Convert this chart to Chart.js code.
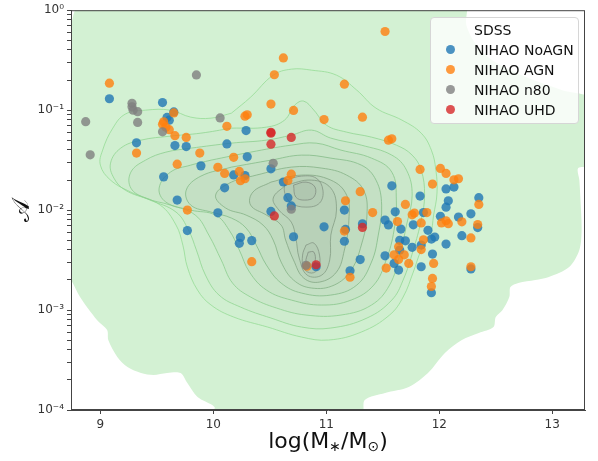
<!DOCTYPE html>
<html>
<head>
<meta charset="utf-8">
<script src="https://cdn.jsdelivr.net/npm/chart.js@4.4.1/dist/chart.umd.min.js"></script>
<style>
    body { margin: 0; background: #fff; }
    #wrap { position: relative; width: 598px; height: 461px; }
    #legendBox {
        position: absolute; left: 430px; top: 17px; width: 147px; height: 105px;
        background: rgba(255,255,255,0.8); border: 1px solid #d6d6d6; border-radius: 4px;
        font-family: "DejaVu Sans", sans-serif; font-size: 14px; color: #111;
    }
    .row { position: absolute; left: 0; height: 20px; line-height: 20px; white-space: nowrap; }
    .dot { position: absolute; left: 15px; top: 5px; width: 9px; height: 9px; border-radius: 50%; }
    .lbl { position: absolute; left: 43px; }
    #xTitle {
        position: absolute; left: 0; width: 656px; top: 428px; text-align: center;
        font-family: "DejaVu Sans", sans-serif; font-size: 22px; color: #111;
    }
    #xTitle sub { font-size: 14px; vertical-align: -3px; }
</style>
</head>
<body>
<div id="wrap">
    <canvas id="kdeChart" width="598" height="461"></canvas>
    <div id="legendBox"></div>
    <div id="xTitle">log(M<sub>∗</sub>/M<sub>⊙</sub>)</div>
</div>
<script>
// tick values / labels
const xTicks = [9, 10, 11, 12, 13];
const yTicks = [1e-4, 1e-3, 1e-2, 1e-1, 1];
const yTickLabels = ["10⁻⁴", "10⁻³", "10⁻²", "10⁻¹", "10⁰"];

// NIHAO simulations (log stellar mass, A)
const noAgnX = [9.08, 9.55, 9.65, 9.59, 9.61, 9.32, 9.66, 9.76, 10.12, 10.29, 10.30, 9.89, 9.56, 10.10, 10.18, 10.28, 10.51, 10.62, 10.66, 10.69,
    9.68, 10.04, 10.51, 9.77, 10.24, 10.23, 10.34, 10.71, 10.98, 10.91, 11.16, 11.17, 11.16, 11.32, 11.30, 11.21, 11.58, 11.83, 12.06, 12.13,
    12.08, 12.35, 12.06, 11.61, 11.86, 12.01, 12.28, 12.17, 11.52, 11.55, 11.66, 11.77, 11.90, 12.34, 12.20, 11.96, 11.93, 12.06, 11.65, 11.70,
    11.76, 11.84, 11.65, 11.52, 11.94, 11.60, 11.64, 11.84, 12.28, 11.93];
const noAgnY = [0.130, 0.119, 0.0959, 0.0845, 0.0794, 0.0471, 0.0442, 0.0432, 0.0459, 0.0624, 0.0341, 0.0277, 0.0215, 0.0167, 0.0225, 0.0222, 0.0259, 0.0191, 0.0133, 0.0110,
    0.0126, 0.0094, 0.0097, 0.00624, 0.00533, 0.00465, 0.00495, 0.00541, 0.00681, 0.00271, 0.0100, 0.00641, 0.00488, 0.0073, 0.0032, 0.00247, 0.0175, 0.0138, 0.0163, 0.0170,
    0.0124, 0.0133, 0.0107, 0.00962, 0.00944, 0.00867, 0.00918, 0.00851, 0.00794, 0.00711, 0.00646, 0.00713, 0.00628, 0.00668, 0.00555, 0.00537, 0.00513, 0.00457, 0.00498, 0.00493,
    0.00424, 0.00447, 0.00398, 0.00349, 0.00363, 0.00293, 0.00251, 0.00271, 0.00258, 0.00149];

const agnX = [9.08, 9.56, 9.55, 9.58, 9.61, 9.65, 9.66, 9.76, 9.32, 9.88, 9.68, 10.04, 10.10, 10.12, 10.30, 10.28, 10.62, 10.54, 10.51, 10.71,
    10.98, 11.16, 11.32, 11.52, 11.55, 11.58, 10.18, 10.23, 10.24, 10.28, 10.69, 10.66, 9.77, 10.34, 10.83, 11.30, 11.17, 11.41, 11.16, 11.21,
    11.83, 12.01, 12.06, 12.13, 12.17, 11.94, 12.35, 11.70, 11.76, 11.78, 11.89, 12.20, 12.02, 12.06, 12.08, 11.63, 11.84, 12.34, 12.28, 11.86,
    11.84, 11.64, 11.69, 11.60, 11.64, 11.73, 11.53, 11.95, 11.94, 11.93, 12.28];
const agnY = [0.186, 0.0764, 0.0724, 0.0676, 0.0638, 0.0938, 0.0556, 0.0533, 0.0372, 0.0372, 0.0288, 0.0268, 0.0233, 0.0689, 0.0897, 0.0871, 0.333, 0.226, 0.115, 0.0993,
    0.0804, 0.182, 0.0851, 0.612, 0.0501, 0.0516, 0.0337, 0.0244, 0.0197, 0.0206, 0.0229, 0.0198, 0.0100, 0.00305, 0.00275, 0.0153, 0.0124, 0.00944, 0.00617, 0.00213,
    0.0255, 0.0261, 0.0233, 0.0201, 0.0206, 0.0182, 0.0114, 0.0114, 0.00897, 0.00933, 0.00944, 0.00764, 0.00745, 0.00782, 0.00731, 0.00767, 0.00745, 0.00718, 0.00527, 0.00504,
    0.00403, 0.0043, 0.00357, 0.00357, 0.00321, 0.00293, 0.00263, 0.00293, 0.00207, 0.00172, 0.00271];

const n80X = [8.87, 8.91, 9.85, 9.28, 9.28, 9.29, 9.33, 9.33, 9.55, 10.06, 10.53, 10.69, 10.82];
const n80Y = [0.0767, 0.0357, 0.225, 0.117, 0.108, 0.100, 0.0966, 0.0753, 0.0607, 0.0836, 0.0294, 0.0102, 0.0028];

const uhdX = [10.51, 10.51, 10.69, 10.51, 10.54, 10.91, 11.32];
const uhdY = [0.0589, 0.0600, 0.0533, 0.0457, 0.00875, 0.00284, 0.00671];

const seriesNames = ["SDSS", "NIHAO NoAGN", "NIHAO AGN", "NIHAO n80", "NIHAO UHD"];

// SDSS density: outline of the filled area and contour levels, as [logM, log10 A]
const sdssOuter = [[8.79, 0.1], [12.22, 0.1], [12.24, -0.15], [12.33, -0.35], [12.47, -0.5], [12.73, -0.65], [13.09, -0.8], [13.36, -0.9],
    [13.36, -1.55], [13.23, -1.58], [13.24, -1.70], [13.25, -1.90], [13.26, -2.20], [13.24, -2.40], [13.15, -2.57], [12.97, -2.67],
    [12.85, -2.70], [12.70, -2.73], [12.63, -2.77], [12.62, -2.87], [12.56, -3.0], [12.50, -3.07], [12.48, -3.17], [12.35, -3.23],
    [12.20, -3.30], [12.05, -3.43], [11.90, -3.63], [11.73, -3.77], [11.52, -3.83], [11.34, -3.90], [11.31, -4.05], [10.0, -4.05],
    [10.01, -3.97], [9.86, -3.87], [9.77, -3.73], [9.71, -3.63], [9.59, -3.63], [9.47, -3.65], [9.36, -3.63], [9.24, -3.57],
    [9.15, -3.47], [9.07, -3.30], [9.06, -3.20], [8.97, -3.10], [8.82, -2.87], [8.74, -2.70], [8.69, -2.65], [8.69, -0.3],
    [8.74, -0.15], [8.76, -0.05], [8.78, 0.02]];

const sdssLevel1 = [[10.16, -1.03], [10.33, -0.87], [10.53, -0.65], [10.69, -0.59], [10.87, -0.60], [11.09, -0.65], [11.27, -0.80], [11.44, -0.98],
    [11.67, -1.10], [11.84, -1.23], [11.93, -1.40], [11.97, -1.60], [11.98, -1.83], [11.95, -2.05], [11.92, -2.25], [11.84, -2.40],
    [11.77, -2.62], [11.68, -2.87], [11.56, -3.05], [11.31, -3.22], [11.02, -3.30], [10.78, -3.27], [10.48, -3.17], [10.18, -3.07],
    [9.98, -2.95], [9.86, -2.80], [9.77, -2.57], [9.73, -2.35], [9.67, -2.15], [9.53, -1.95], [9.27, -1.82], [9.09, -1.70],
    [9.0, -1.55], [9.02, -1.40], [9.11, -1.18], [9.22, -1.04], [9.40, -1.00], [9.62, -1.00], [9.80, -1.07], [9.98, -1.08]];
const sdssLevel2 = [[10.16, -1.18], [10.47, -1.17], [10.63, -1.10], [10.72, -0.95], [10.80, -0.91], [10.89, -1.00], [11.0, -1.15], [11.18, -1.22],
    [11.40, -1.27], [11.62, -1.35], [11.76, -1.45], [11.84, -1.60], [11.87, -1.85], [11.84, -2.10], [11.77, -2.40], [11.68, -2.70],
    [11.58, -2.90], [11.36, -3.08], [11.04, -3.18], [10.78, -3.17], [10.51, -3.08], [10.24, -2.97], [10.05, -2.85], [9.93, -2.65],
    [9.85, -2.40], [9.78, -2.20], [9.67, -2.02], [9.44, -1.90], [9.22, -1.80], [9.12, -1.68], [9.09, -1.53], [9.18, -1.38],
    [9.36, -1.30], [9.62, -1.26], [9.89, -1.23]];
const sdssLevel3 = [[9.80, -1.38], [10.16, -1.33], [10.47, -1.30], [10.69, -1.25], [10.87, -1.20], [11.04, -1.28], [11.31, -1.35], [11.58, -1.45],
    [11.71, -1.60], [11.76, -1.85], [11.71, -2.15], [11.65, -2.45], [11.56, -2.75], [11.40, -2.95], [11.13, -3.05], [10.82, -3.05],
    [10.56, -2.98], [10.33, -2.87], [10.17, -2.73], [10.07, -2.50], [9.96, -2.25], [9.84, -2.05], [9.62, -1.95], [9.40, -1.88],
    [9.27, -1.78], [9.27, -1.62], [9.40, -1.50], [9.58, -1.42]];
const sdssLevel4 = [[9.98, -1.50], [10.33, -1.42], [10.69, -1.35], [10.91, -1.33], [11.13, -1.40], [11.40, -1.48], [11.58, -1.62], [11.62, -1.90],
    [11.60, -2.20], [11.53, -2.50], [11.42, -2.75], [11.22, -2.90], [10.96, -2.95], [10.69, -2.90], [10.47, -2.80], [10.32, -2.62],
    [10.23, -2.40], [10.14, -2.20], [10.02, -2.05], [9.80, -2.00], [9.58, -1.92], [9.52, -1.78], [9.62, -1.62], [9.80, -1.55]];
const sdssLevel5 = [[10.16, -1.57], [10.51, -1.50], [10.78, -1.45], [11.04, -1.48], [11.31, -1.55], [11.44, -1.70], [11.49, -1.95], [11.46, -2.25],
    [11.40, -2.52], [11.27, -2.75], [11.04, -2.85], [10.78, -2.83], [10.60, -2.73], [10.47, -2.55], [10.38, -2.35], [10.29, -2.18],
    [10.16, -2.08], [9.98, -2.02], [9.80, -1.95], [9.76, -1.80], [9.89, -1.66]];
const sdssLevel6 = [[10.38, -1.65], [10.69, -1.57], [10.96, -1.58], [11.18, -1.65], [11.33, -1.80], [11.36, -2.05], [11.31, -2.35], [11.22, -2.60],
    [11.07, -2.75], [10.87, -2.78], [10.71, -2.70], [10.60, -2.52], [10.53, -2.30], [10.44, -2.15], [10.29, -2.05], [10.11, -1.98],
    [10.02, -1.85], [10.16, -1.72]];
const sdssLevel7 = [[10.51, -1.72], [10.78, -1.65], [11.04, -1.70], [11.18, -1.85], [11.20, -2.10], [11.16, -2.40], [11.09, -2.62], [10.94, -2.72],
    [10.80, -2.68], [10.71, -2.50], [10.64, -2.30], [10.60, -2.15], [10.47, -2.05], [10.33, -1.95], [10.35, -1.82]];
const sdssLevel8 = [[10.64, -1.75], [10.87, -1.70], [11.04, -1.78], [11.09, -2.00], [11.04, -2.25], [11.03, -2.50], [10.96, -2.65], [10.83, -2.65],
    [10.76, -2.48], [10.73, -2.28], [10.69, -2.12], [10.58, -2.00], [10.53, -1.88]];
const sdssLevel9a = [[10.64, -1.70], [10.78, -1.66], [10.91, -1.68], [10.97, -1.80], [10.94, -1.93], [10.82, -1.97], [10.69, -1.93], [10.63, -1.82]];
const sdssLevel9b = [[10.82, -2.35], [10.89, -2.33], [10.94, -2.45], [10.93, -2.58], [10.87, -2.63], [10.80, -2.58], [10.79, -2.45]];
const sdssLevel10a = [[10.71, -1.75], [10.82, -1.72], [10.90, -1.77], [10.89, -1.87], [10.81, -1.90], [10.73, -1.87]];
const sdssLevel10b = [[10.84, -2.42], [10.89, -2.42], [10.90, -2.52], [10.86, -2.57], [10.82, -2.52]];

const sdssLevels = [sdssLevel1, sdssLevel2, sdssLevel3, sdssLevel4, sdssLevel5, sdssLevel6, sdssLevel7, sdssLevel8,
    sdssLevel9a, sdssLevel9b, sdssLevel10a, sdssLevel10b];
const levelLineColors = ["rgba(150,220,150,0.8)", "rgba(145,214,146,0.8)", "rgba(140,206,142,0.8)", "rgba(136,198,139,0.8)",
    "rgba(133,188,136,0.8)", "rgba(132,178,134,0.8)", "rgba(132,168,133,0.8)", "rgba(132,158,132,0.8)",
    "rgba(132,150,132,0.8)", "rgba(132,150,132,0.8)", "rgba(130,142,130,0.8)", "rgba(130,142,130,0.8)"];
const levelFillColors = ["rgba(120,150,120,0.02)", "rgba(120,145,120,0.025)", "rgba(120,140,120,0.03)", "rgba(120,135,120,0.035)",
    "rgba(120,130,120,0.04)", "rgba(120,128,120,0.045)", "rgba(120,125,120,0.05)", "rgba(120,125,120,0.05)",
    "rgba(120,125,120,0.05)", "rgba(120,125,120,0.05)", "rgba(120,125,120,0.05)", "rgba(120,125,120,0.05)"];

const seriesColors = ["rgba(31,119,180,0.8)", "rgba(255,127,14,0.8)", "rgba(127,127,127,0.8)", "rgba(214,39,40,0.8)"];

function toPoints(xs, ys) {
    return xs.map(function (x, i) { return { x: x, y: ys[i] }; });
}
function loopPoints(poly) {
    let pts = poly.map(function (p) { return { x: p[0], y: Math.pow(10, p[1]) }; });
    pts.push(pts[0]);
    return pts;
}

let datasets = [];

// filled SDSS area
datasets.push({
    type: "line",
    label: "SDSS",
    data: loopPoints(sdssOuter),
    showLine: true,
    borderWidth: 0,
    borderColor: "rgba(0,0,0,0)",
    backgroundColor: "rgb(211,241,211)",
    fill: "shape",
    tension: 0.3,
    pointRadius: 0,
    order: 50
});

sdssLevels.forEach(function (lev, i) {
    datasets.push({
        type: "line",
        label: "sdss" + i,
        data: loopPoints(lev),
        showLine: true,
        borderWidth: 1,
        borderColor: levelLineColors[i],
        backgroundColor: levelFillColors[i],
        fill: "shape",
        tension: 0.4,
        pointRadius: 0,
        order: 40 - i
    });
});

const pointSeries = [[noAgnX, noAgnY], [agnX, agnY], [n80X, n80Y], [uhdX, uhdY]];
pointSeries.forEach(function (s, i) {
    datasets.push({
        type: "line",
        label: seriesNames[i + 1],
        data: toPoints(s[0], s[1]),
        showLine: false,
        pointRadius: 4.6,
        pointBorderWidth: 0,
        pointBackgroundColor: seriesColors[i],
        backgroundColor: seriesColors[i],
        order: 4 - i
    });
});

const framePlugin = {
    id: "frame",
    afterDatasetsDraw: function (chart) {
        let ca = chart.chartArea;
        let ctx = chart.ctx;
        ctx.save();
        ctx.strokeStyle = "#444";
        ctx.lineWidth = 1;
        ctx.strokeRect(ca.left + 0.5, ca.top + 0.5, ca.right - ca.left - 1, ca.bottom - ca.top - 1);
        ctx.restore();
    }
};

Chart.defaults.font.family = "'DejaVu Sans', sans-serif";

new Chart(document.getElementById("kdeChart"), {
    type: "line",
    data: { datasets: datasets },
    plugins: [framePlugin],
    options: {
        responsive: false,
        animation: false,
        devicePixelRatio: 1,
        layout: { padding: { left: 0, right: 13, top: 10, bottom: 0 } },
        plugins: { legend: { display: false }, tooltip: { enabled: false } },
        scales: {
            x: {
                type: "linear",
                min: 8.74,
                max: 13.29,
                afterBuildTicks: function (scale) {
                    scale.ticks = xTicks.map(function (v) { return { value: v }; });
                },
                afterFit: function (scale) { scale.height = 51; },
                ticks: { color: "#333", font: { size: 12 }, padding: 4, maxRotation: 0 },
                grid: { drawOnChartArea: false, tickLength: 4, color: "#444" },
                border: { color: "#444" }
            },
            y: {
                type: "logarithmic",
                min: 1e-4,
                max: 1,
                afterBuildTicks: function (scale) {
                    let t = [];
                    for (let d = -4; d < 0; d++) {
                        for (let k = 1; k < 10; k++) t.push({ value: k * Math.pow(10, d) });
                    }
                    t.push({ value: 1 });
                    scale.ticks = t;
                },
                afterFit: function (scale) { scale.width = 71; },
                ticks: {
                    autoSkip: false,
                    color: "#333",
                    font: { size: 12 },
                    padding: 3,
                    callback: function (value) {
                        for (let i = 0; i < yTicks.length; i++) {
                            if (Math.abs(Math.log10(value) - Math.log10(yTicks[i])) < 1e-6) return yTickLabels[i];
                        }
                        return "";
                    }
                },
                grid: {
                    drawOnChartArea: false,
                    tickLength: 4,
                    color: "#444"
                },
                border: { color: "#444" },
                title: {
                    display: true,
                    text: "𝒜",
                    color: "#111",
                    font: { size: 24 },
                    padding: { top: 8, bottom: 0 }
                }
            }
        }
    }
});

// legend (drawn inside the axes, upper right)
let box = document.getElementById("legendBox");
const legendRowTops = [2, 22, 42, 62, 82];
seriesNames.forEach(function (name, i) {
    let row = document.createElement("div");
    row.className = "row";
    row.style.top = legendRowTops[i] + "px";
    if (i > 0) {
        let dot = document.createElement("span");
        dot.className = "dot";
        dot.style.background = seriesColors[i - 1];
        row.appendChild(dot);
    }
    let lbl = document.createElement("span");
    lbl.className = "lbl";
    lbl.textContent = name;
    row.appendChild(lbl);
    box.appendChild(row);
});
</script>
</body>
</html>
